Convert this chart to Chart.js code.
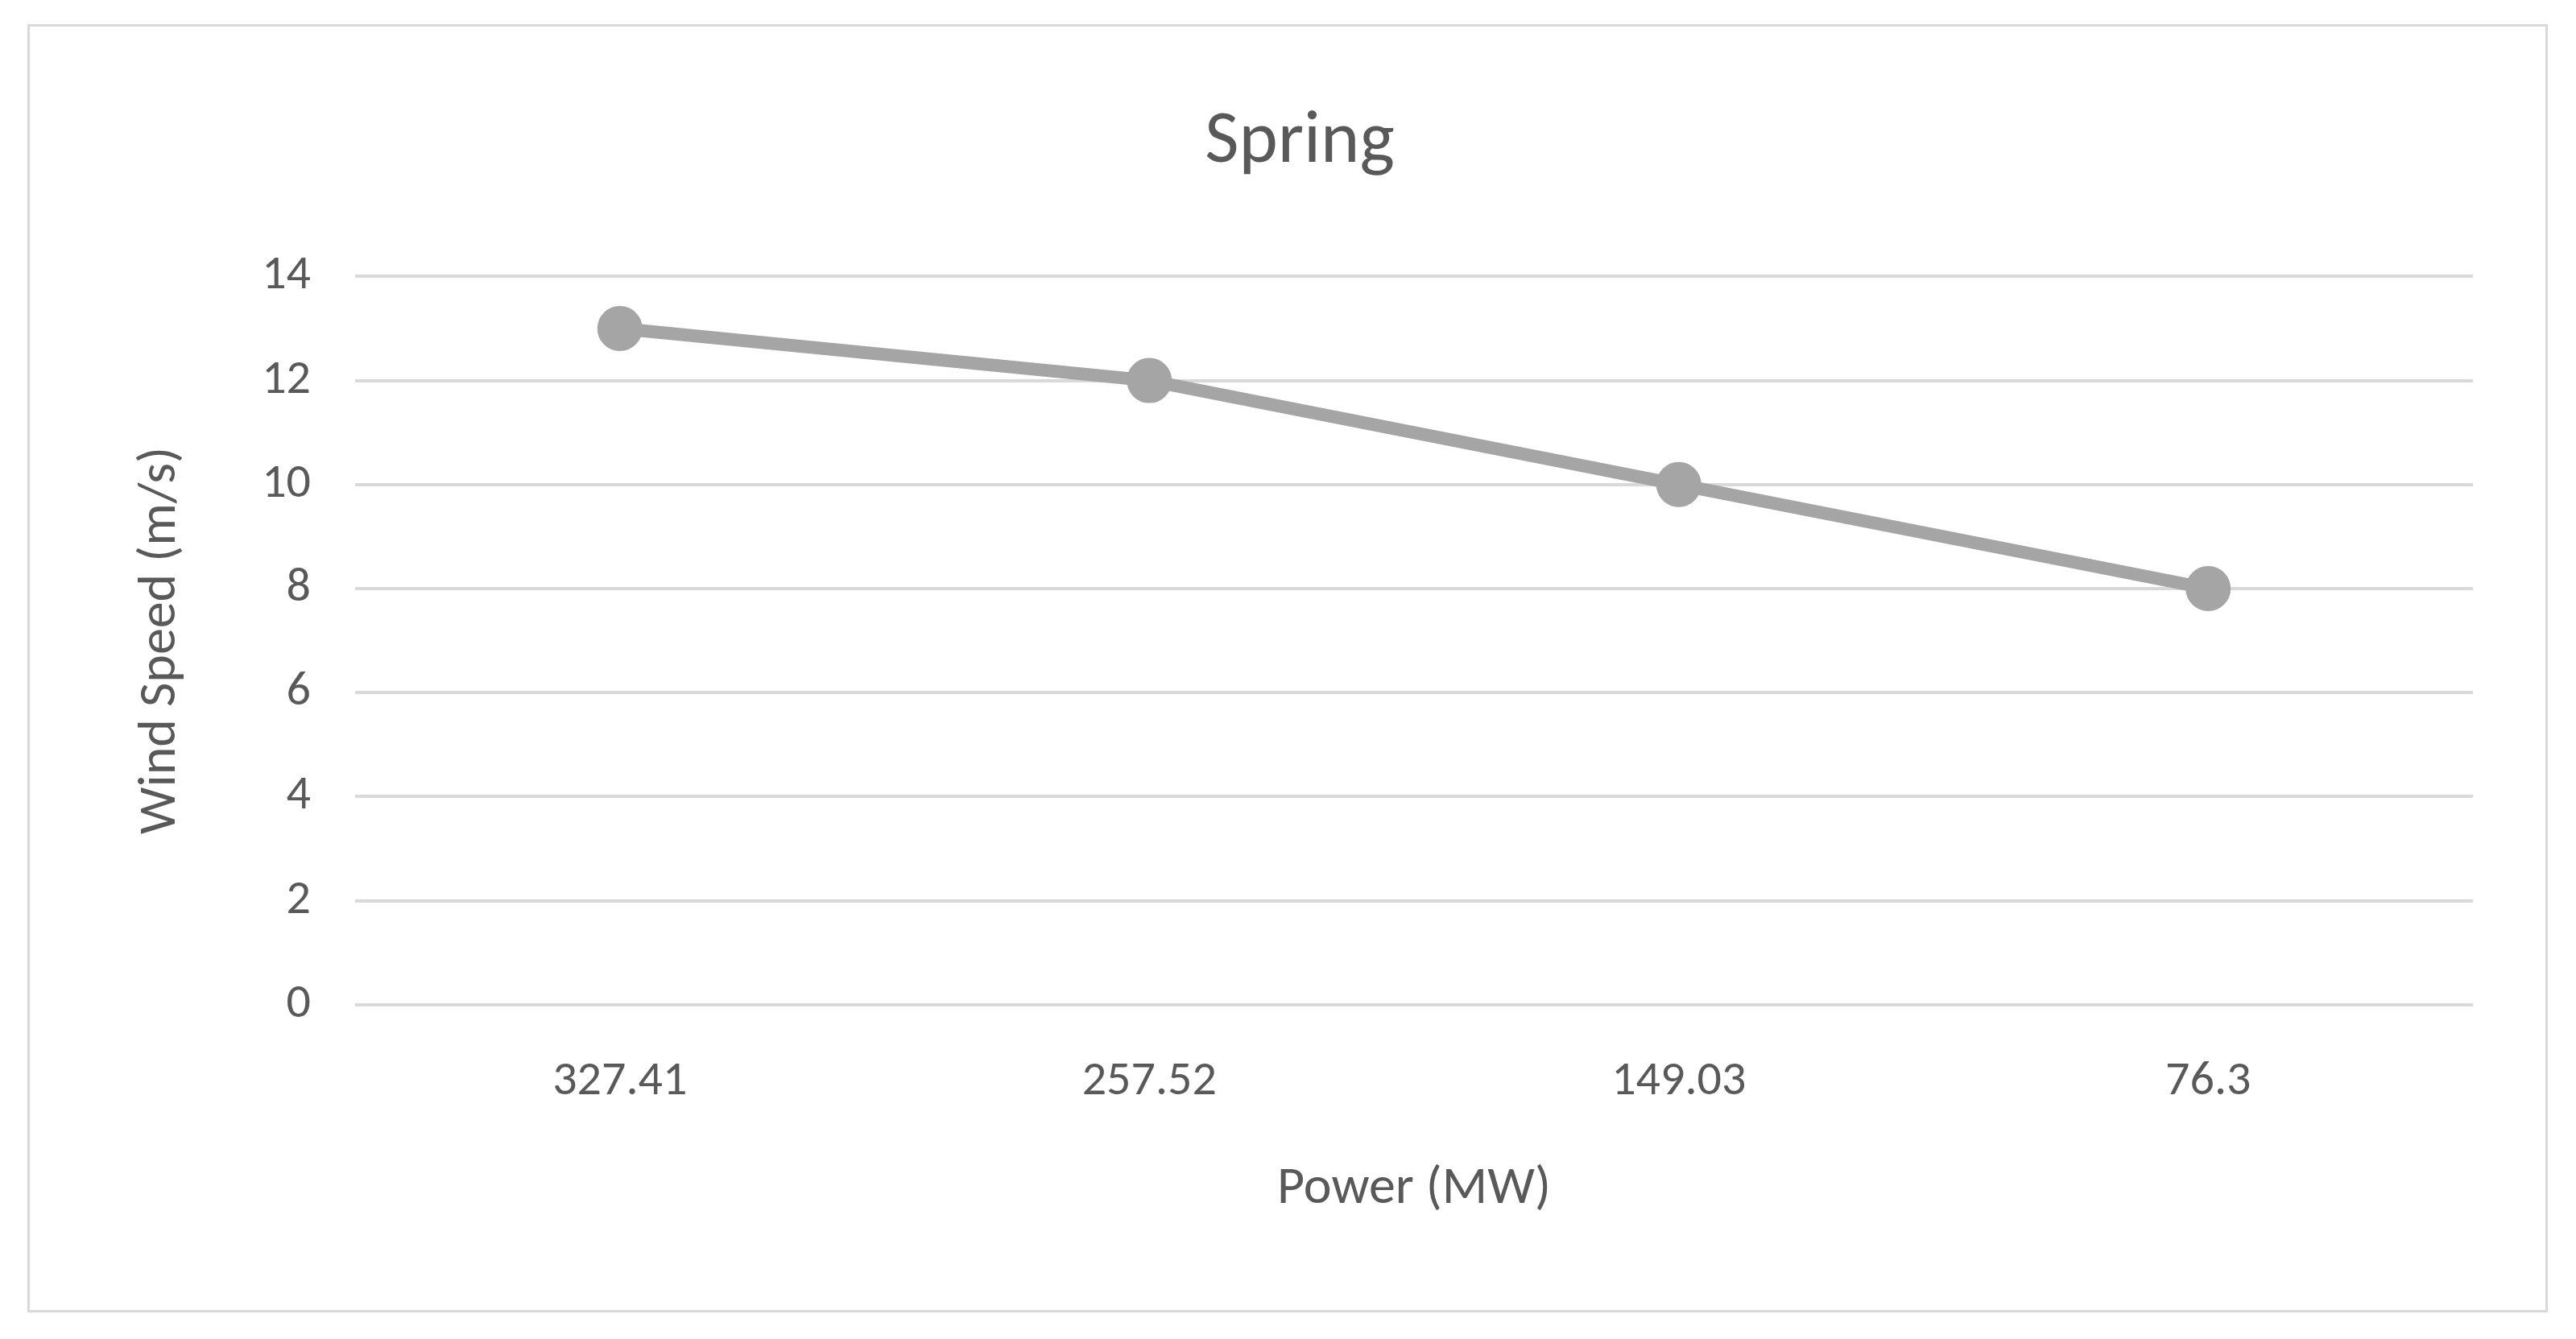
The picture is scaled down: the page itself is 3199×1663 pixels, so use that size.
<!DOCTYPE html>
<html><head><meta charset="utf-8">
<script src="https://cdn.jsdelivr.net/npm/chart.js@4"></script>
<style>
html,body{margin:0;padding:0;background:#fff;width:3199px;height:1663px;overflow:hidden}
#box{position:absolute;left:34px;top:30px;width:3130px;height:1600px;border:3px solid #D9D9D9;box-sizing:border-box}
canvas{display:block}
</style></head><body>
<div id="box"><canvas id="c" width="3124" height="1594"></canvas></div>
<script>
const categories = ["327.41","257.52","149.03","76.3"];
const windSpeed = [13,12,10,8];
const yTicks = [0,2,4,6,8,10,12,14];
const font = "Calibri, Carlito, Lato, 'Open Sans', sans-serif";
Chart.defaults.font.family = font;
Chart.defaults.color = '#595959';
new Chart(document.getElementById('c'), {
  type:'line',
  data:{labels:categories,datasets:[{data:windSpeed,borderColor:'#A5A5A5',backgroundColor:'#A5A5A5',borderWidth:16,pointRadius:20,pointHoverRadius:20,tension:0}]},
  options:{responsive:false,animation:false,
    layout:{padding:{left:120,right:90,top:40,bottom:106}},
    plugins:{legend:{display:false},tooltip:{enabled:false},
      title:{display:true,text:'Spring',font:{size:92,weight:'normal'},color:'#595959',padding:{top:50,bottom:110}}},
    scales:{
      x:{offset:true,grid:{display:false},border:{display:false},ticks:{font:{size:60},padding:52},
        title:{display:true,text:'Power (MW)',font:{size:66},padding:{top:6}}},
      y:{min:0,max:14,afterBuildTicks:a=>{a.ticks=yTicks.map(v=>({value:v}));},grid:{color:'#D9D9D9',lineWidth:4,drawTicks:false},border:{display:false},
        ticks:{font:{size:60},padding:55},title:{display:true,text:'Wind Speed (m/s)',font:{size:66},padding:{bottom:30}}}
    }}
});
</script></body></html>
